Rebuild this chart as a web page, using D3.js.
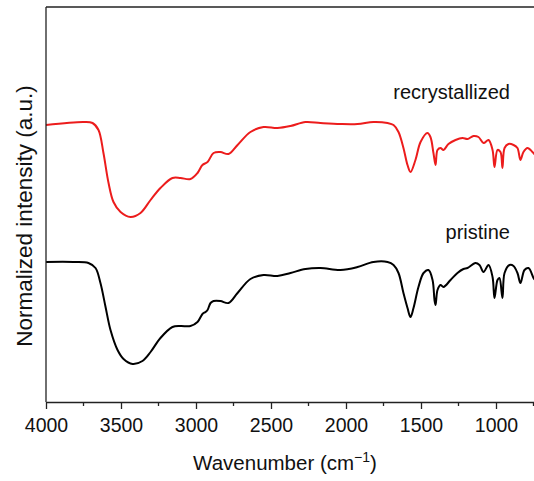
<!DOCTYPE html>
<html>
<head>
<meta charset="utf-8">
<script src="https://cdn.jsdelivr.net/npm/d3@7"></script>
<style>
  body { margin: 0; background: #fff; }
  svg { display: block; font-family: Arial, "Liberation Sans", sans-serif; }
</style>
</head>
<body>
<div id="chart"></div>
<script>
// recrystallized (red) spectrum, wavenumber (cm-1) and intensity (a.u.)
const redWn = [4000, 3750, 3690, 3650, 3617, 3583, 3550, 3503, 3437, 3370, 3303, 3237, 3157, 3103, 3037,
  2990, 2957, 2923, 2883, 2837, 2783, 2723, 2637, 2550, 2457, 2370, 2270, 2170, 2037, 1923, 1817, 1723,
  1683, 1650, 1617, 1590, 1570, 1537, 1503, 1457, 1437, 1417, 1403, 1390, 1370, 1350, 1317, 1270, 1223,
  1190, 1150, 1117, 1083, 1050, 1023, 1010, 990, 970, 957, 943, 917, 883, 857, 837, 817, 790, 757, 740];
const redI = [277, 280, 279, 272, 249, 219, 200, 190, 185, 189, 202, 214, 224, 224, 223,
  229, 237, 240, 249, 250, 248, 257, 270, 275, 274, 276, 280, 279, 278, 278, 280, 279,
  277, 270, 254, 237, 230, 242, 260, 269, 265, 249, 237, 252, 254, 252, 258, 262, 264,
  263, 266, 265, 259, 262, 252, 235, 252, 250, 234, 254, 258, 257, 254, 242, 250, 254, 250, 247];

// pristine (black) spectrum
const blackWn = [4000, 3817, 3717, 3670, 3637, 3603, 3570, 3523, 3483, 3423, 3357, 3303, 3237, 3157, 3103,
  3037, 2990, 2957, 2937, 2923, 2903, 2883, 2837, 2783, 2723, 2637, 2550, 2457, 2370, 2270, 2170, 2037,
  1923, 1817, 1723, 1683, 1650, 1617, 1590, 1570, 1550, 1517, 1483, 1450, 1423, 1410, 1403, 1390, 1370,
  1350, 1303, 1257, 1217, 1190, 1137, 1110, 1083, 1050, 1023, 1010, 990, 977, 957, 943, 910, 883, 857,
  837, 810, 783, 750, 740];
const blackI = [140, 140, 139, 134, 119, 95, 72, 52, 43, 38, 41, 50, 64, 75, 76,
  76, 80, 88, 90, 92, 99, 101, 101, 99, 109, 123, 127, 126, 129, 133, 134, 132,
  135, 140, 140, 137, 129, 109, 94, 85, 94, 115, 129, 132, 122, 102, 97, 112, 117,
  115, 122, 129, 133, 134, 139, 137, 130, 137, 125, 104, 122, 124, 104, 129, 137, 136, 129,
  119, 132, 134, 124, 122];

const xTicks = [4000, 3500, 3000, 2500, 2000, 1500, 1000];
const xMinorTicks = [3750, 3250, 2750, 2250, 1750, 1250, 750];

const series = [
  {name: "recrystallized", color: "#ec1c1c", wn: redWn, val: redI, ly: 99},
  {name: "pristine", color: "#000000", wn: blackWn, val: blackI, ly: 239}
];

const width = 534, height = 481;
const mLeft = 46, mTop = 7, mBottom = 402;

const svg = d3.select("#chart").append("svg")
  .attr("width", width)
  .attr("height", height);

const x = d3.scaleLinear().domain([4000, 400]).range([mLeft, mLeft + 540]);
const y = d3.scaleLinear().domain([0, 395]).range([mBottom, mTop]);

const line = d3.line()
  .x((d) => x(d[0]))
  .y((d) => y(d[1]))
  .curve(d3.curveCatmullRom.alpha(0.5));

series.forEach((s) => {
  svg.append("path")
    .datum(d3.zip(s.wn, s.val))
    .attr("d", line)
    .attr("fill", "none")
    .attr("stroke", s.color)
    .attr("stroke-width", 2)
    .attr("stroke-linejoin", "round");

  svg.append("text")
    .attr("x", 510)
    .attr("y", s.ly)
    .attr("text-anchor", "end")
    .attr("font-size", 20)
    .attr("fill", "#111")
    .text(s.name);
});

// frame: left and top lines
svg.append("line")
  .attr("x1", mLeft).attr("x2", mLeft)
  .attr("y1", mTop).attr("y2", mBottom)
  .attr("stroke", "#222").attr("stroke-width", 1.3);
svg.append("line")
  .attr("x1", mLeft).attr("x2", width)
  .attr("y1", mTop).attr("y2", mTop)
  .attr("stroke", "#222").attr("stroke-width", 1.3);

// bottom axis
const xAxis = svg.append("g")
  .attr("transform", `translate(0,${mBottom})`)
  .call(d3.axisBottom(x).tickValues(xTicks).tickSize(7).tickSizeOuter(0).tickFormat(d3.format("d")));
xAxis.select(".domain").attr("stroke", "#222").attr("stroke-width", 1.3);
xAxis.selectAll(".tick line").attr("stroke", "#222").attr("stroke-width", 1.3);
xAxis.selectAll(".tick text")
  .attr("font-size", 19.5)
  .attr("font-family", "Arial, 'Liberation Sans', sans-serif")
  .attr("fill", "#111")
  .attr("dy", "1.05em");

svg.append("g")
  .attr("transform", `translate(0,${mBottom})`)
  .selectAll("line")
  .data(xMinorTicks)
  .enter()
  .append("line")
  .attr("x1", (d) => x(d)).attr("x2", (d) => x(d))
  .attr("y1", 0).attr("y2", 4)
  .attr("stroke", "#222").attr("stroke-width", 1.3);

// axis titles
const xt = svg.append("text")
  .attr("x", 285)
  .attr("y", 470)
  .attr("text-anchor", "middle")
  .attr("font-size", 20.5)
  .attr("fill", "#111");
xt.append("tspan").text("Wavenumber (cm");
xt.append("tspan").attr("font-size", 14).attr("dy", -8).text("\u22121");
xt.append("tspan").attr("dy", 8).text(")");

svg.append("text")
  .attr("transform", "translate(32,216) rotate(-90)")
  .attr("text-anchor", "middle")
  .attr("font-size", 22.5)
  .attr("fill", "#111")
  .text("Normalized intensity (a.u.)");
</script>
</body>
</html>
